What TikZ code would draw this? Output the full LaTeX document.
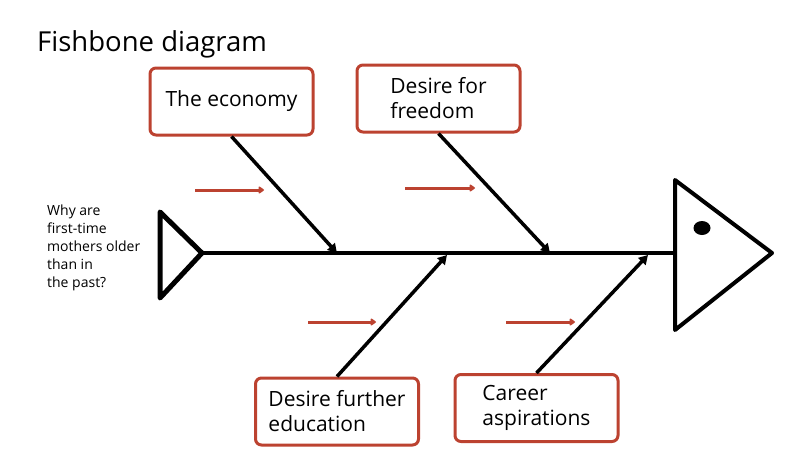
\documentclass[tikz,border=0pt]{standalone}
\usepackage{fontspec}
\setmainfont{Open Sans}
\usetikzlibrary{arrows.meta}
\definecolor{boxred}{RGB}{188,66,48}

\begin{document}
\begin{tikzpicture}[x=1pt,y=-1pt,
    box/.style={draw=boxred, line width=3pt, rounded corners=6pt, minimum width=163pt,
        minimum height=67pt, align=left, font=\fontsize{21}{25}\selectfont},
    bone/.style={line width=3.5pt, -{Triangle[length=9pt,width=10pt]}},
    push/.style={draw=boxred, line width=3pt, -{Triangle[length=6pt,width=8pt,round]}}]
    \useasboundingbox (0,0) rectangle (788,461);
    % title and question
    \node[anchor=base west, inner sep=0pt, font=\fontsize{27.5}{30}\selectfont] (title) at (37,51) {Fishbone diagram};
    \node[anchor=north west, inner sep=0pt, align=left, font=\fontsize{14}{18}\selectfont] (question) at (47,205)
        {Why are\\first-time\\mothers older\\than in\\the past?};
    % tail and head of the fish
    \draw [line width=5pt, line join=round] (160,212) -- (202,253) -- (160,298) -- cycle;
    \draw [line width=4pt, line join=round] (675,180) -- (772,253) -- (675,330) -- cycle;
    \fill (702,228) ellipse (8.5 and 7);
    \coordinate (tail) at (202,253);
    \coordinate (head) at (675,253);
    \draw [line width=4pt] (tail) -- (head);
    % causes
    \node[box] (econ) at (231.5,101.5) {The economy};
    \node[box] (freedom) at (438.5,98.5) {Desire for\\freedom};
    \node[box] (educ) at (337,411.5) {Desire further\\education};
    \node[box] (career) at (536.5,408) {Career\\aspirations};
    \coordinate (econS) at (337,253);
    \coordinate (freedomS) at (550,253);
    \coordinate (educS) at (447,255);
    \coordinate (careerS) at (648,255);
    \draw [bone] (econ.south) -- (econS);
    \draw [bone] (freedom.south) -- (freedomS);
    \draw [bone] (educ.north) -- (educS);
    \draw [bone] (career.north) -- (careerS);
    % red arrows
    \coordinate (p1) at (195,190); \coordinate (q1) at (264,190);
    \coordinate (p2) at (405,188); \coordinate (q2) at (475,188);
    \coordinate (p3) at (308,322); \coordinate (q3) at (376,322);
    \coordinate (p4) at (506,322); \coordinate (q4) at (575,322);
    \draw [push] (p1) -- (q1);
    \draw [push] (p2) -- (q2);
    \draw [push] (p3) -- (q3);
    \draw [push] (p4) -- (q4);
\end{tikzpicture}
\end{document}
